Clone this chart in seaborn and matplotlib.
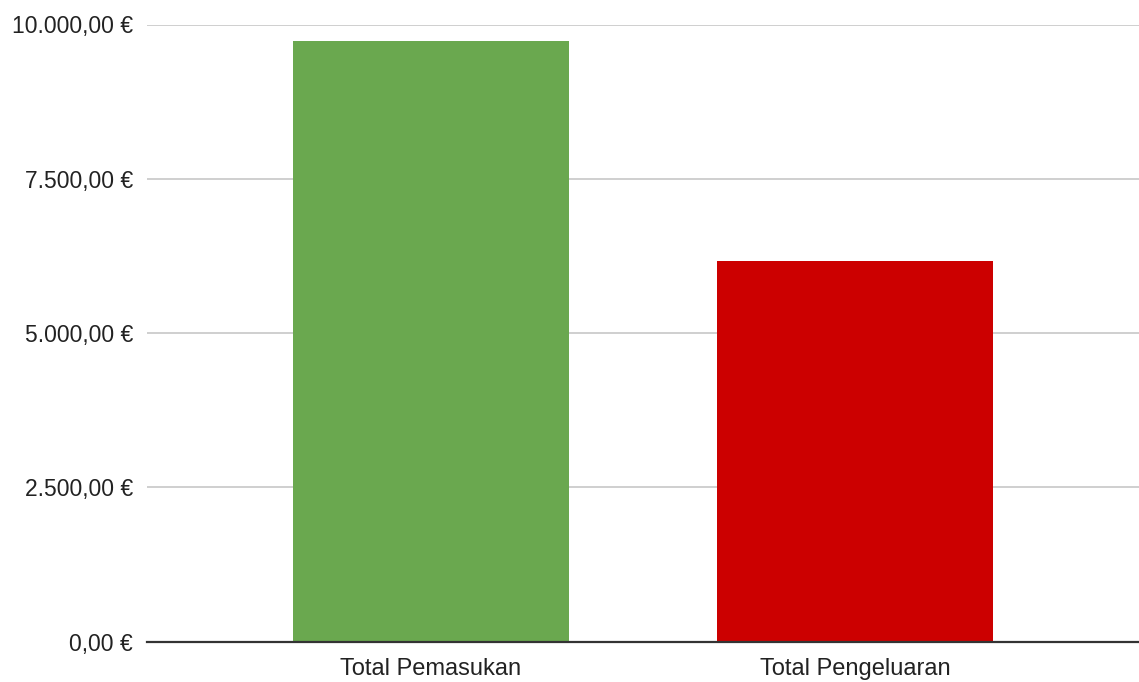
import matplotlib
matplotlib.use("Agg")
import matplotlib.pyplot as plt
import seaborn as sns
import pandas as pd
from matplotlib.ticker import FuncFormatter

# data
categories = ["Total Pemasukan", "Total Pengeluaran"]
amounts = [9735, 6165]
bar_colors = ["#6aa84f", "#cc0000"]

df = pd.DataFrame({"Kategori": categories, "Jumlah": amounts})

sns.set_theme(style="white")
plt.rcParams['font.family'] = ['Liberation Sans', 'DejaVu Sans']

fig = plt.figure(figsize=(11.39, 6.82), dpi=100)
ax = fig.add_axes([147 / 1139, 1 - 641.5 / 682, 1 - 147 / 1139, (641.5 - 24.5) / 682])

sns.barplot(data=df, x="Kategori", y="Jumlah", hue="Kategori",
            palette=bar_colors, width=0.65, legend=False, ax=ax,
            saturation=1, linewidth=0)

ax.set_ylim(0, 10000)
ax.set_xlim(-0.67, 1.67)
ax.set_yticks([0, 2500, 5000, 7500, 10000])

# euro format with dot thousands and comma decimals
def euro(v, pos):
    s = f"{v:,.2f}".replace(",", "X").replace(".", ",").replace("X", ".")
    return s + " €"

ax.yaxis.set_major_formatter(FuncFormatter(euro))
ax.grid(axis='y', color='#cccccc', linewidth=1.3)
ax.set_axisbelow(True)
for sp in ['top', 'right', 'left']:
    ax.spines[sp].set_visible(False)
ax.spines['bottom'].set_color('#333333')
ax.spines['bottom'].set_linewidth(1.6)
ax.tick_params(axis='y', length=0, pad=10, labelsize=16.5, labelcolor='#222222')
ax.tick_params(axis='x', length=0, pad=12, labelsize=17, labelcolor='#222222')
ax.set_xlabel("")
ax.set_ylabel("")

plt.savefig("out.png", dpi=100)
